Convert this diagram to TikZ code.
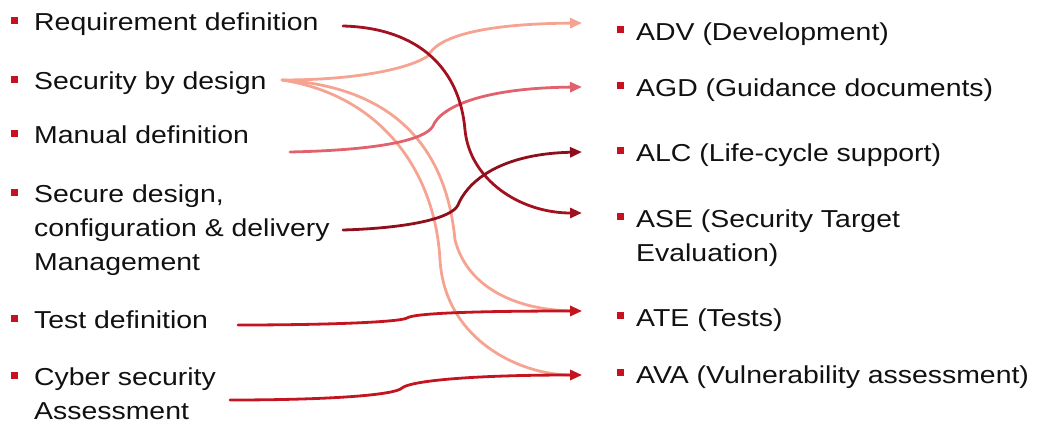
\documentclass[tikz,border=0pt]{standalone}
\usepackage{fontspec}
\setmainfont{Liberation Sans}[FakeStretch=1.16]
\usetikzlibrary{arrows.meta}
\definecolor{bulred}{HTML}{C8101E}
\definecolor{txt}{HTML}{111111}
\definecolor{cdark}{HTML}{A3101F}
\definecolor{cdarker}{HTML}{8E0E1C}
\definecolor{csalmon}{HTML}{F6A392}
\definecolor{cpink}{HTML}{E0626C}
\definecolor{cred}{HTML}{C4141F}
\begin{document}
\begin{tikzpicture}[x=1pt,y=-1pt,
  lbl/.style={anchor=base west, inner sep=0pt, text=txt, font=\fontsize{24.5}{34.3}\selectfont},
  bul/.style={rectangle, fill=bulred, minimum size=7pt, inner sep=0pt, draw=none},
  conn/.style={line width=2.8pt, -{Triangle[length=12pt,width=10pt]}, line cap=round, line join=round}]
\useasboundingbox (0,0) rectangle (1040,423);
\renewcommand\arraystretch{1}
% left texts
\node[lbl] (req) at (34,30.5) {Requirement definition};
\node[lbl] (sbd) at (34,89) {Security by design};
\node[lbl] (man) at (34,143.5) {Manual definition};
\node[lbl] (sec) at (34,202) {\begin{tabular}[t]{@{}l@{}}Secure design,\\configuration \& delivery\\Management\end{tabular}};
\node[lbl] (tst) at (34,328.5) {Test definition};
\node[lbl] (cyb) at (34,385) {\begin{tabular}[t]{@{}l@{}}Cyber security\\Assessment\end{tabular}};
% right texts
\node[lbl] (adv) at (636,40.5) {ADV (Development)};
\node[lbl] (agd) at (636,96.5) {AGD (Guidance documents)};
\node[lbl] (alc) at (636,161.5) {ALC (Life-cycle support)};
\node[lbl] (ase) at (636,227) {\begin{tabular}[t]{@{}l@{}}ASE (Security Target\\Evaluation)\end{tabular}};
\node[lbl] (ate) at (636,326.5) {ATE (Tests)};
\node[lbl] (ava) at (636,383.5) {AVA (Vulnerability assessment)};
% bullets
\node[bul] (bl1) at (14.5,20.5) {};
\node[bul] (bl2) at (14.5,79) {};
\node[bul] (bl3) at (14.5,133.5) {};
\node[bul] (bl4) at (14.5,192) {};
\node[bul] (bl5) at (14.5,318.5) {};
\node[bul] (bl6) at (14.5,375) {};
\node[bul] (br1) at (620,29.5) {};
\node[bul] (br2) at (620,85.5) {};
\node[bul] (br3) at (620,150.5) {};
\node[bul] (br4) at (620,216) {};
\node[bul] (br5) at (620,315.5) {};
\node[bul] (br6) at (620,372.5) {};
% connector end points
\coordinate (oreq) at (343,26);
\coordinate (osbd) at (282,80);
\coordinate (oman) at (290,152);
\coordinate (osec) at (343,230);
\coordinate (otst) at (238,325);
\coordinate (ocyb) at (230,400);
\coordinate (iadv) at (582,23);
\coordinate (iagd) at (582,87);
\coordinate (ialc) at (582,152);
\coordinate (iase) at (582,213);
\coordinate (iate) at (582,311);
\coordinate (iava) at (582,375);
% connectors
\draw[conn, csalmon] (osbd) .. controls (380,95) and (435,170) .. (440,260)
   .. controls (445,340) and (520,375) .. (iava);
\draw[conn, csalmon] (osbd) .. controls (410,88) and (448,165) .. (455,240)
   .. controls (468,290) and (520,310) .. (iate);
\draw[conn, csalmon] (osbd) .. controls (360,80) and (410,68) .. (428,56)
   .. controls (436,40) and (470,24) .. (iadv);
\draw[conn, cpink] (oman) .. controls (380,150) and (425,140) .. (433,126)
   .. controls (440,108) and (480,88) .. (iagd);
\draw[conn, cdark] (oreq) .. controls (420,28) and (460,70) .. (465,130)
   .. controls (470,180) and (520,213) .. (iase);
\draw[conn, cdarker] (osec) .. controls (410,228) and (452,218) .. (458,205)
   .. controls (466,185) and (495,154) .. (ialc);
\draw[conn, cred] (otst) .. controls (330,325) and (400,322) .. (407,318)
   .. controls (414,313) and (480,311) .. (iate);
\draw[conn, cred] (ocyb) .. controls (330,400) and (395,395) .. (402,388)
   .. controls (410,381) and (470,375) .. (iava);
\end{tikzpicture}
\end{document}
